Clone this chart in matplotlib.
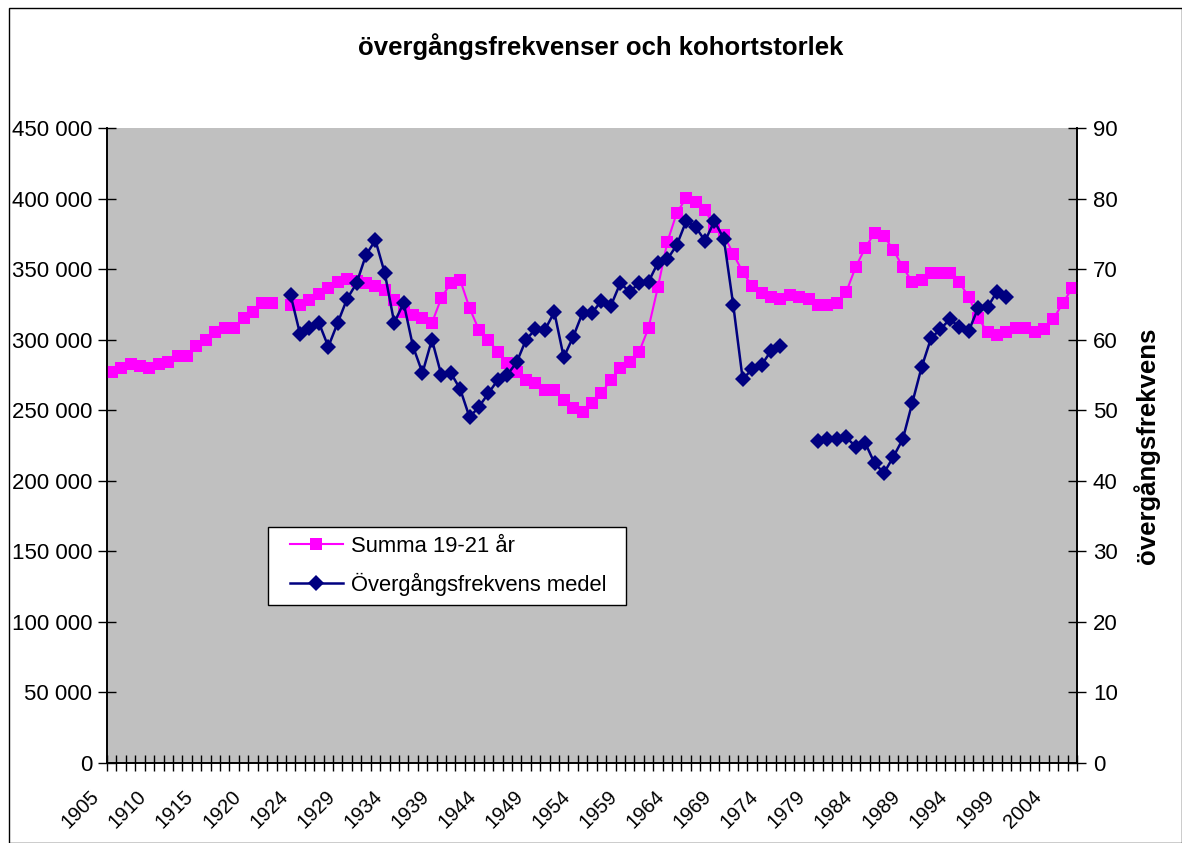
import numpy as np
import matplotlib
matplotlib.use("Agg")
import matplotlib.pyplot as plt
from matplotlib.patches import Rectangle
from matplotlib.transforms import ScaledTranslation

# ---- data ----
years = [str(y) for y in range(1905, 1923)] + [""] + [str(y) for y in range(1923, 2007)]

summa = [277300, 280100, 282700, 281300, 280100, 282700, 284400, 288400, 288400, 295500,
         299800, 305600, 308300, 308300, 315400, 319800, 326000, 326000, np.nan, 324600,
         324600, 328000, 332300, 336600, 341000, 343000, 341800, 340200, 338000, 335200,
         328100, 319800, 317500, 315400, 311800, 329500, 340200, 342300, 322400, 306800,
         299800, 291300, 283500, 277200, 271500, 269300, 264400, 264400, 257300, 251600,
         248700, 255100, 262200, 271500, 280000, 284200, 291300, 308300, 337300, 369200,
         389800, 400400, 397600, 391900, 379800, 374200, 360700, 348000, 338000, 333100,
         330200, 328800, 331700, 330200, 328800, 324600, 324600, 326000, 333800, 351500,
         364900, 375600, 373500, 363600, 351500, 340900, 342300, 347200, 347200, 347200,
         340900, 330200, 315400, 305400, 303300, 305400, 308300, 308300, 305400, 307600,
         314700, 326000, 336600]

frekvens = [np.nan] * 19 + [
    66.3, 60.8, 61.6, 62.4, 59.0, 62.4, 65.8, 68.0, 72.0, 74.1,
    69.4, 62.4, 65.2, 59.0, 55.3, 60.0, 55.0, 55.3, 53.0, 49.0,
    50.5, 52.4, 54.3, 55.0, 56.8, 60.0, 61.5, 61.4, 63.9, 57.5,
    60.4, 63.8, 63.8, 65.5, 64.8, 68.0, 66.8, 68.0, 68.2, 70.9,
    71.4, 73.4, 76.8, 76.0, 74.0, 76.8, 74.3, 64.9, 54.4, 55.8,
    56.4, 58.4, 59.1, np.nan, np.nan, np.nan, 45.6, 45.9, 45.9, 46.2,
    44.8, 45.4, 42.5, 41.1, 43.4, 45.9, 51.0, 56.1, 60.2, 61.5,
    62.9, 61.8, 61.2, 64.5, 64.6, 66.8, 66.0] + [np.nan] * 7

left_ticks = list(range(0, 450001, 50000))
right_ticks = list(range(0, 91, 10))
title = "övergångsfrekvenser och kohortstorlek"
label_summa = "Summa 19-21 år"
label_frek = "Övergångsfrekvens medel"
right_label = "övergångsfrekvens"

# ---- figure ----
plt.rcParams['font.family'] = ['Liberation Sans', 'DejaVu Sans']
W, H = 1182, 843
fig = plt.figure(figsize=(W / 100, H / 100), dpi=100)
fig.patch.set_facecolor("white")
px = 72 / 100  # points per pixel

# figure border
fig.patches.append(Rectangle((9 / W, 0.0), 1 - 9.5 / W, 1 - 8 / H, transform=fig.transFigure,
                             fill=False, edgecolor="black", linewidth=1.0))

left, right, top, bottom = 107, 1077, 128, 763
ax = fig.add_axes([left / W, 1 - bottom / H, (right - left) / W, (bottom - top) / H])
ax.set_facecolor("#C0C0C0")

n = len(years)
x = np.arange(n)
l1, = ax.plot(x, summa, color="#FF00FF", marker="s", markersize=8.2, linewidth=1.5,
              markeredgewidth=0, label=label_summa, zorder=3)

ax2 = ax.twinx()
l2, = ax2.plot(x, frekvens, color="#000080", marker="D", markersize=7.8, linewidth=1.8,
               markeredgewidth=0, label=label_frek, zorder=3)

ax.set_xlim(-0.5, n - 0.5)
ax.set_ylim(0, 450000)
ax2.set_ylim(0, 90)

FS = 16
ax.set_yticks(left_ticks)
ax.set_yticklabels([f"{v:,}".replace(",", " ") for v in left_ticks], fontsize=FS)
ax2.set_yticks(right_ticks)
ax2.set_yticklabels([str(v) for v in right_ticks], fontsize=FS)

# x ticks: marks at category boundaries, labels every 5th category
ax.set_xticks(np.arange(-0.5, n, 1.0))
ax.set_xticklabels([])
ax.tick_params(axis="x", which="major", direction="inout", length=11, width=1)
ax.set_xticks(np.arange(0, n, 5), minor=True)
ax.set_xticklabels([years[i] for i in range(0, n, 5)], minor=True, rotation=45,
                   ha="right", va="top", rotation_mode="anchor", fontsize=14.5)
ax.tick_params(axis="x", which="minor", length=0, pad=0)
shift = ScaledTranslation(-22 * px / 72, -24 * px / 72, fig.dpi_scale_trans)
for lab in ax.get_xticklabels(minor=True):
    lab.set_transform(lab.get_transform() + shift)

ax.tick_params(axis="y", direction="inout", length=13, width=1, pad=4)
ax2.tick_params(axis="y", direction="inout", length=13, width=1, pad=5)

for a in (ax, ax2):
    a.spines["top"].set_visible(False)
    for s in ("left", "right", "bottom"):
        a.spines[s].set_linewidth(1.2)
        a.spines[s].set_color("black")

ax2.set_ylabel(right_label, fontsize=18.5, fontweight="bold", labelpad=11)

fig.text(0.5 * (357 + 845) / W, 1 - 47 / H, title, fontsize=18.5, fontweight="bold",
         ha="center", va="center")

# legend box and legend
fig.add_artist(Rectangle((268 / W, 1 - 605 / H), (626 - 268) / W, (605 - 527) / H,
                         transform=fig.transFigure, facecolor="white", edgecolor="black",
                         linewidth=1.0, zorder=4))
leg = fig.legend([l1, l2], [label_summa, label_frek], loc="upper left",
                 bbox_to_anchor=(290 / W, 1 - 536 / H), bbox_transform=fig.transFigure,
                 frameon=False, fontsize=15.8, handlelength=2.4, handletextpad=0.4,
                 borderpad=0, labelspacing=0.72, borderaxespad=0)
leg.set_zorder(5)

fig.savefig("out.png", dpi=100, facecolor="white")
